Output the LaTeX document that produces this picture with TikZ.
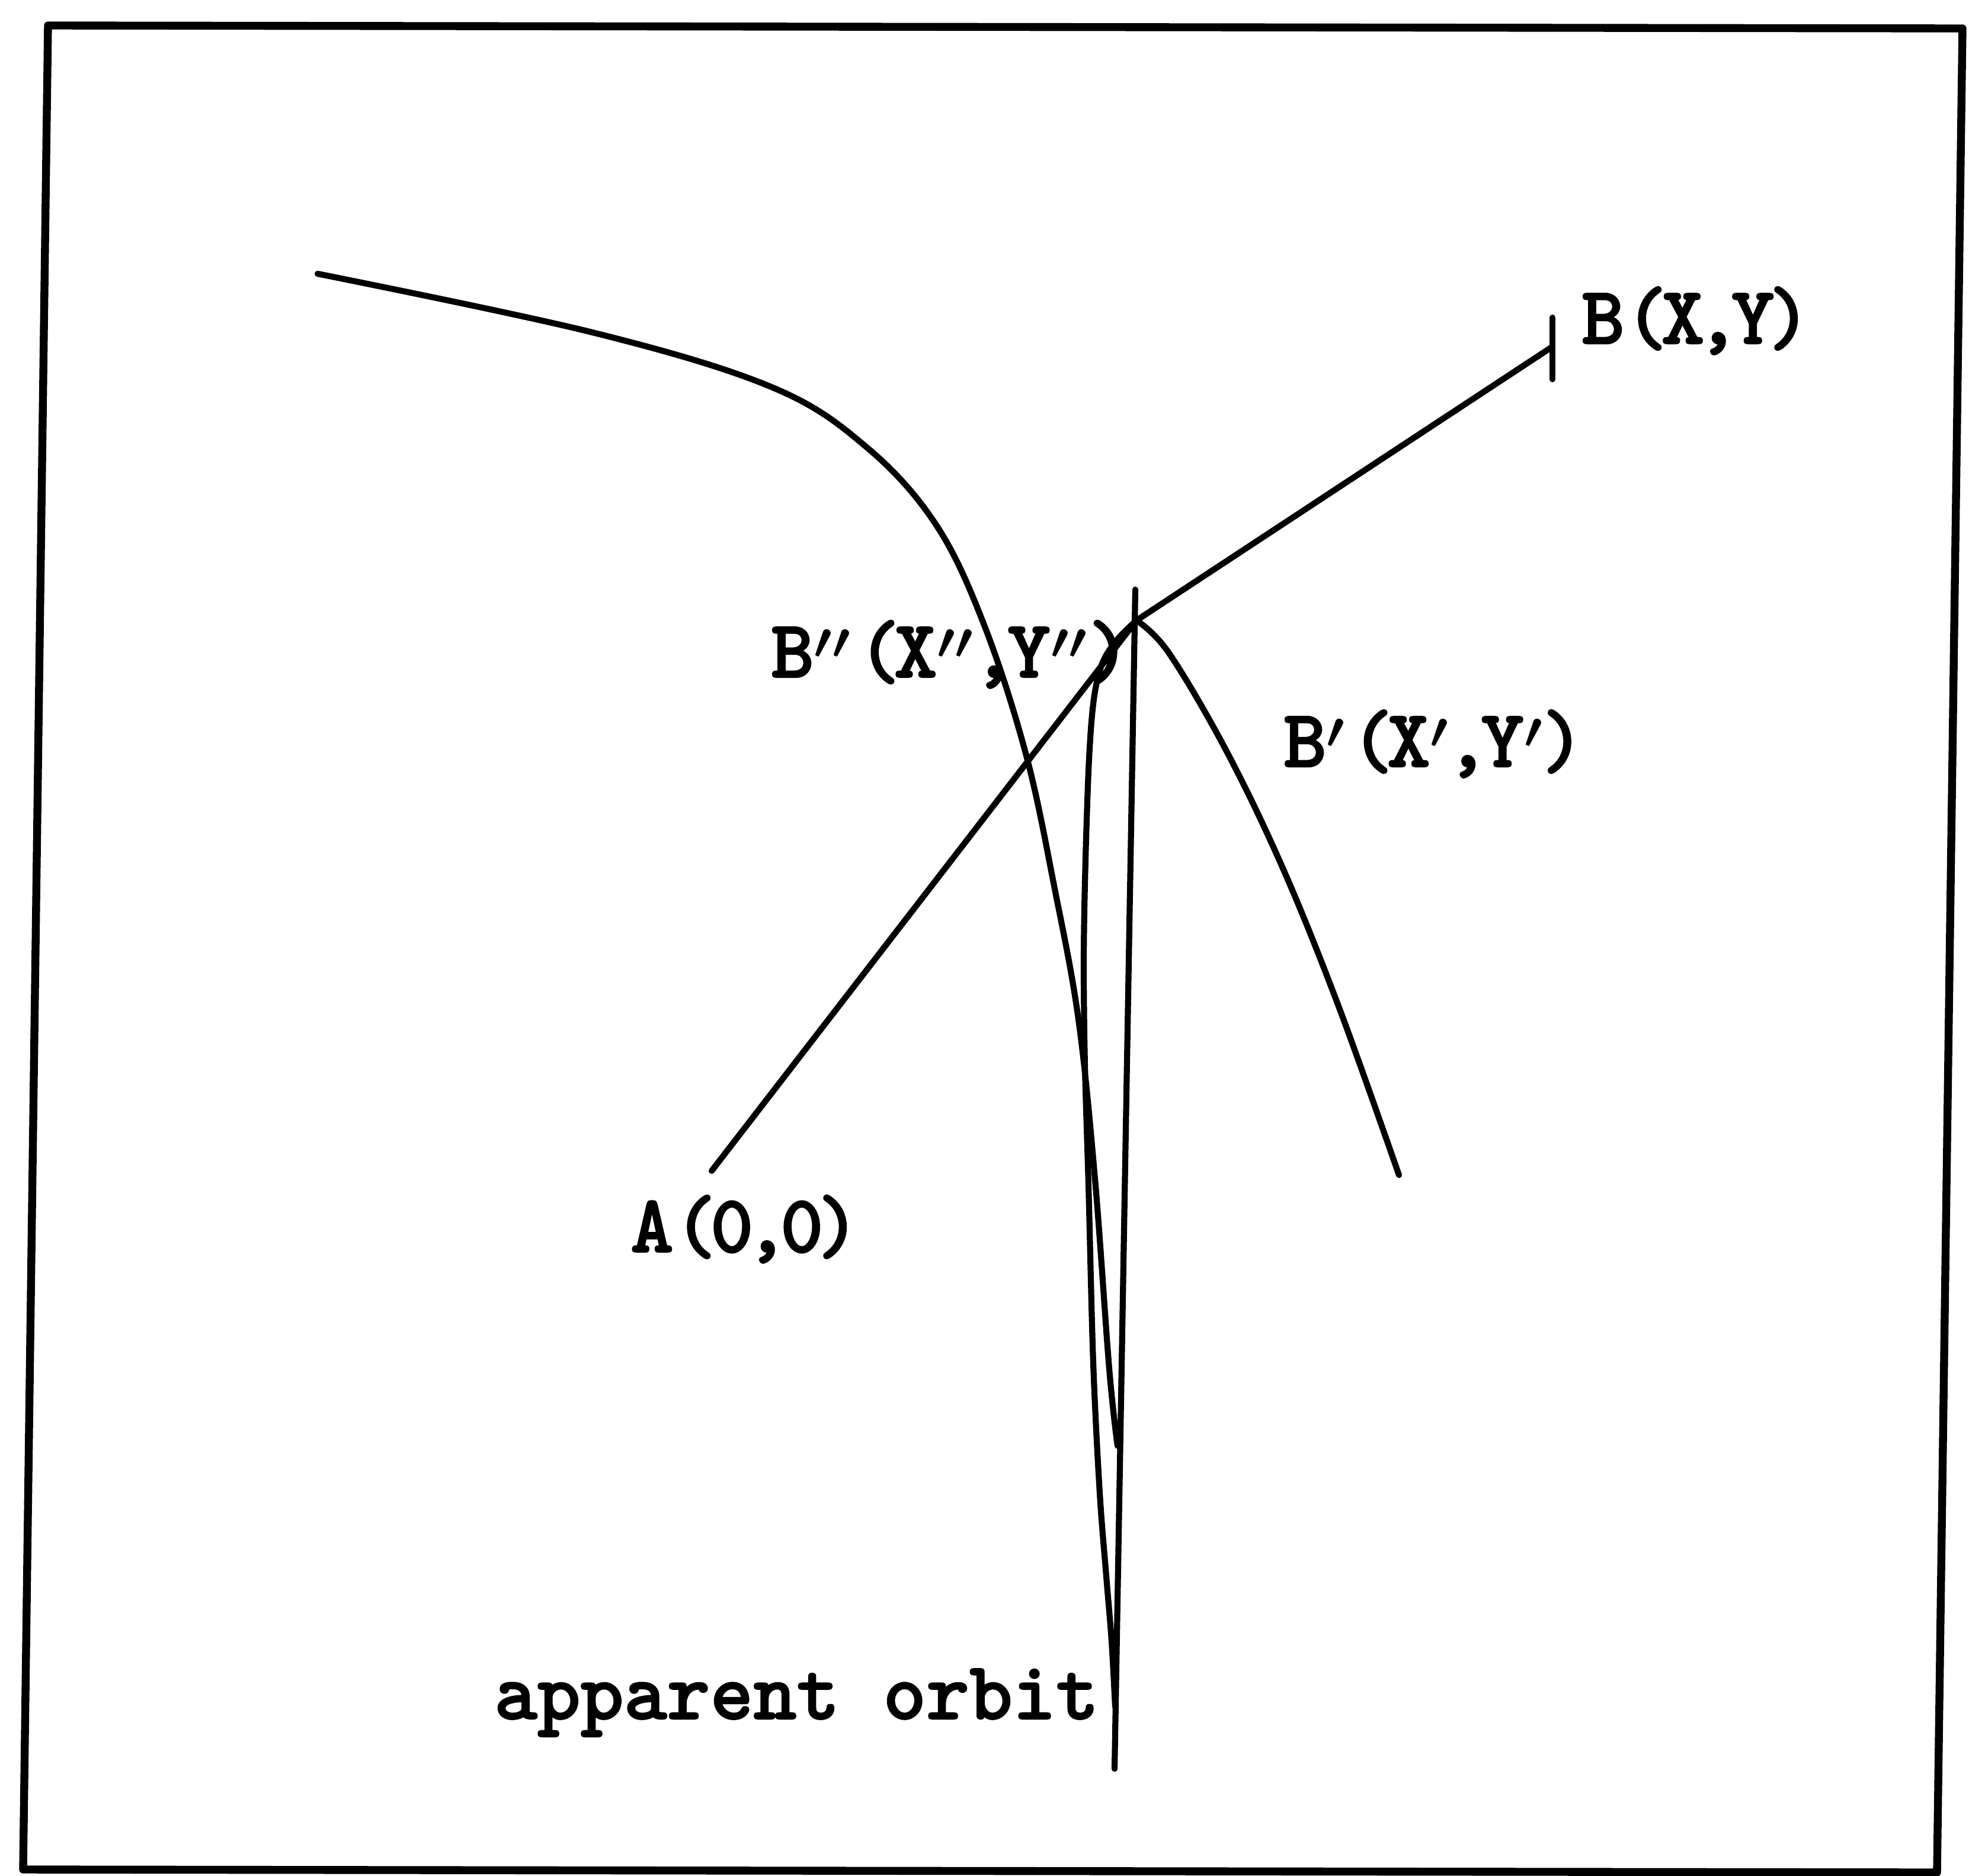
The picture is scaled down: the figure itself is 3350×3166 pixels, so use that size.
\documentclass[tikz,border=0pt]{standalone}
\usepackage{fontspec}
\newfontfamily\labfont{lmmonolt10-bold.otf}[FakeBold=1.5]
\newcommand\myLp{(\kern-.08em}
\newcommand\myRp{\kern-.08em)}
\newcommand\myCm{\kern-.1em,\kern-.1em}
\newcommand\myP{\mbox{\boldmath$^{\prime}$}\kern.06em}
\newcommand\myPP{\mbox{\boldmath$^{\prime\prime}$}\kern.08em}
\begin{document}
\begin{tikzpicture}[x=0.01cm,y=-0.01cm,
  curve/.style={line width=2.9pt, line cap=round, line join=round},
  framestyle/.style={line width=3.8pt, line join=round},
  lab/.style={inner sep=0pt, outer sep=0pt, anchor=base west,
    font={\labfont\fontsize{39.5pt}{40pt}\selectfont}}]
\useasboundingbox (0,0) rectangle (3350,3166);
% frame
\draw[framestyle] (81,43) -- (3312,48) -- (3269,3160) -- (39,3155) -- cycle;
% key points
\coordinate (A) at (1201,1976);
\coordinate (P) at (1918,1047);
\coordinate (B) at (2620,585);
\coordinate (Tt) at (2620,536);
\coordinate (Tb) at (2620,640);
\coordinate (Vt) at (1916,995);
\coordinate (Vb) at (1881,2985);
% line A -> B'' -> B and tick at B
\draw[curve] (A) -- (P) -- (B);
\draw[curve] (Tt) -- (Tb);
% vertical line
\draw[curve] (Vt) -- (Vb);
% large orbit curve
\draw[curve] plot[smooth, tension=0.6] coordinates {
  (536,462) (1000,561) (1304,654) (1464,756) (1580,886) (1661,1055)
  (1732,1275) (1780,1500) (1820,1720) (1848,1990) (1872,2310) (1886,2440)};
% right branch from apex
\draw[curve] plot[smooth, tension=0.6] coordinates {
  (P) (1972,1101) (2068,1264) (2164,1463) (2259,1698) (2361,1983)};
% inner branch (apparent orbit)
\draw[curve] plot[smooth, tension=0.55] coordinates {
  (P) (1885,1080) (1860,1120) (1846,1180) (1838,1280) (1832,1450)
  (1829,1620) (1831,1800) (1837,2000) (1845,2300) (1856,2520) (1867,2660)
  (1876,2770) (1882,2880)};
% labels
\node[lab] (lB) at (2669,580) {B\myLp X\myCm Y\myRp};
\node[lab] (lBpp) at (1301,1143) {B\myPP\myLp X\myPP\myCm Y\myPP\myRp};
\node[lab] (lBp) at (2166,1294) {B\myP\myLp X\myP\myCm Y\myP\myRp};
\node[lab] (lA) at (1064,2113) {A\myLp 0\myCm 0\myRp};
\node[lab] (lorb) at (834,2901) {apparent orbit};
\end{tikzpicture}
\end{document}
